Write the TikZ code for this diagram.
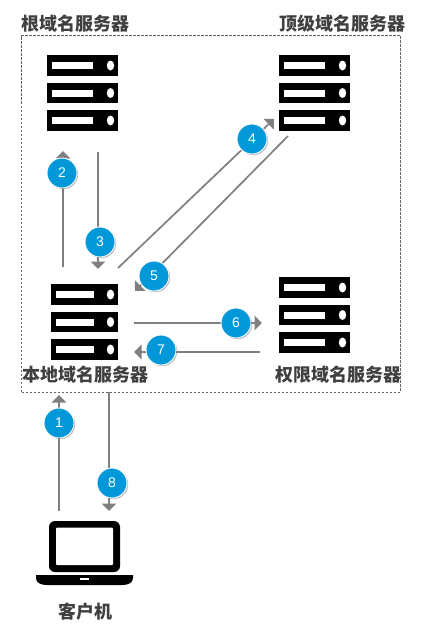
\documentclass[tikz,border=0pt]{standalone}
\usepackage{fontspec}
\newfontfamily\cjk{Noto Sans CJK SC}
\newfontfamily\digit{Liberation Sans}
\usetikzlibrary{arrows.meta,shadows}
\definecolor{arrowgray}{HTML}{7F7F7F}
\definecolor{labelgray}{HTML}{404040}
\definecolor{badgeblue}{HTML}{0098D8}
\tikzset{
  flow/.style={draw=arrowgray,line width=1.7pt,-{Triangle[length=7.5pt,width=14.5pt]}},
  badge/.style={circle,fill=badgeblue,draw=white,line width=0.9pt,minimum size=30pt,inner sep=0pt,
    text=white,font=\digit\fontsize{14}{14}\selectfont,
    general shadow={shadow xshift=1.2pt,shadow yshift=-1.2pt,fill=black,opacity=0.10,draw=none,scale=1.16},
    general shadow={shadow xshift=1.2pt,shadow yshift=-1.2pt,fill=black,opacity=0.18,draw=none,scale=1.07}},
  title/.style={text=labelgray,font=\cjk\bfseries\fontsize{18}{18}\selectfont,inner sep=0pt},
  framebox/.style={draw=black!60,line width=0.7pt,dash pattern=on 2.6pt off 1.4pt},
  unit/.style={fill=black},
  slot/.style={fill=white}
}
\newcommand{\srvbar}[6]{%
  \fill[unit] (#1,#3) rectangle (#2,#4);
  \fill[slot] (#5,{(#3+#4)/2-3.5}) rectangle ({#5+#6},{(#3+#4)/2+3.5});
  \fill[slot] ({#2-7.5},{(#3+#4)/2}) ellipse [x radius=3.7,y radius=5];
}
\begin{document}
\begin{tikzpicture}[x=1pt,y=-1pt]
\useasboundingbox (0,0) rectangle (440,632);
\fill[white] (0,0) rectangle (440,632);
\node[framebox,minimum width=378.6pt,minimum height=356.8pt,anchor=center,inner sep=0pt,outer sep=0pt] (frame) at (211,213.9) {};
% root
\srvbar{47}{118}{55}{76}{52}{41}
\srvbar{47}{118}{83}{103}{52}{41}
\srvbar{47}{118}{110}{131}{52}{41}
% tld
\srvbar{279}{350}{55}{76}{284}{41}
\srvbar{279}{350}{83}{103}{284}{41}
\srvbar{279}{350}{110}{131}{284}{41}
% local
\srvbar{51}{118}{284}{305}{56}{38}
\srvbar{51}{118}{312}{332}{56}{38}
\srvbar{51}{118}{339}{360}{56}{38}
% authoritative
\srvbar{279}{350}{277}{298}{284}{41}
\srvbar{279}{350}{305}{325}{284}{41}
\srvbar{279}{350}{332}{353}{284}{41}
% laptop
\fill[black,rounded corners=6pt] (49,521) rectangle (120,572);
\fill[white,rounded corners=1pt] (56,527.5) rectangle (113,565);
\fill[black] (36,575) -- (133,575) -- (133,578) .. controls (133,583) and (128,585) .. (122,585) -- (47,585) .. controls (41,585) and (36,583) .. (36,578) -- cycle;
\fill[white] (80,578.2) rectangle (89,580);
% labels
\node[title,anchor=west] (root) at (21,23.5) {根域名服务器};
\node[title,anchor=west] (tld) at (279.5,23.5) {顶级域名服务器};
\node[title,anchor=west] (local) at (22,374.5) {本地域名服务器};
\node[title,anchor=west] (auth) at (275,374.5) {权限域名服务器};
\node[title,anchor=center] (client) at (85,611.5) {客户机};
% connector ends
\coordinate (a1) at (59,511); \coordinate (b1) at (59,395);
\coordinate (a2) at (63,267); \coordinate (b2) at (63,151);
\coordinate (a3) at (98,152); \coordinate (b3) at (98,269);
\coordinate (a4) at (118,268); \coordinate (b4) at (274,119);
\coordinate (a5) at (288,136); \coordinate (b5) at (135,291);
\coordinate (a6) at (134,323); \coordinate (b6) at (262,323);
\coordinate (a7) at (260,352); \coordinate (b7) at (134,352);
\coordinate (a8) at (109,392); \coordinate (b8) at (109,511);
\foreach \i in {1,...,8} { \draw[flow] (a\i) -- (b\i); }
% badges
\node[badge] (n1) at (59,423) {1};
\node[badge] (n2) at (62,173) {2};
\node[badge] (n3) at (100,242) {3};
\node[badge] (n4) at (252,139) {4};
\node[badge] (n5) at (154,276) {5};
\node[badge] (n6) at (236,323) {6};
\node[badge] (n7) at (161,350) {7};
\node[badge] (n8) at (112,483) {8};
\end{tikzpicture}
\end{document}
